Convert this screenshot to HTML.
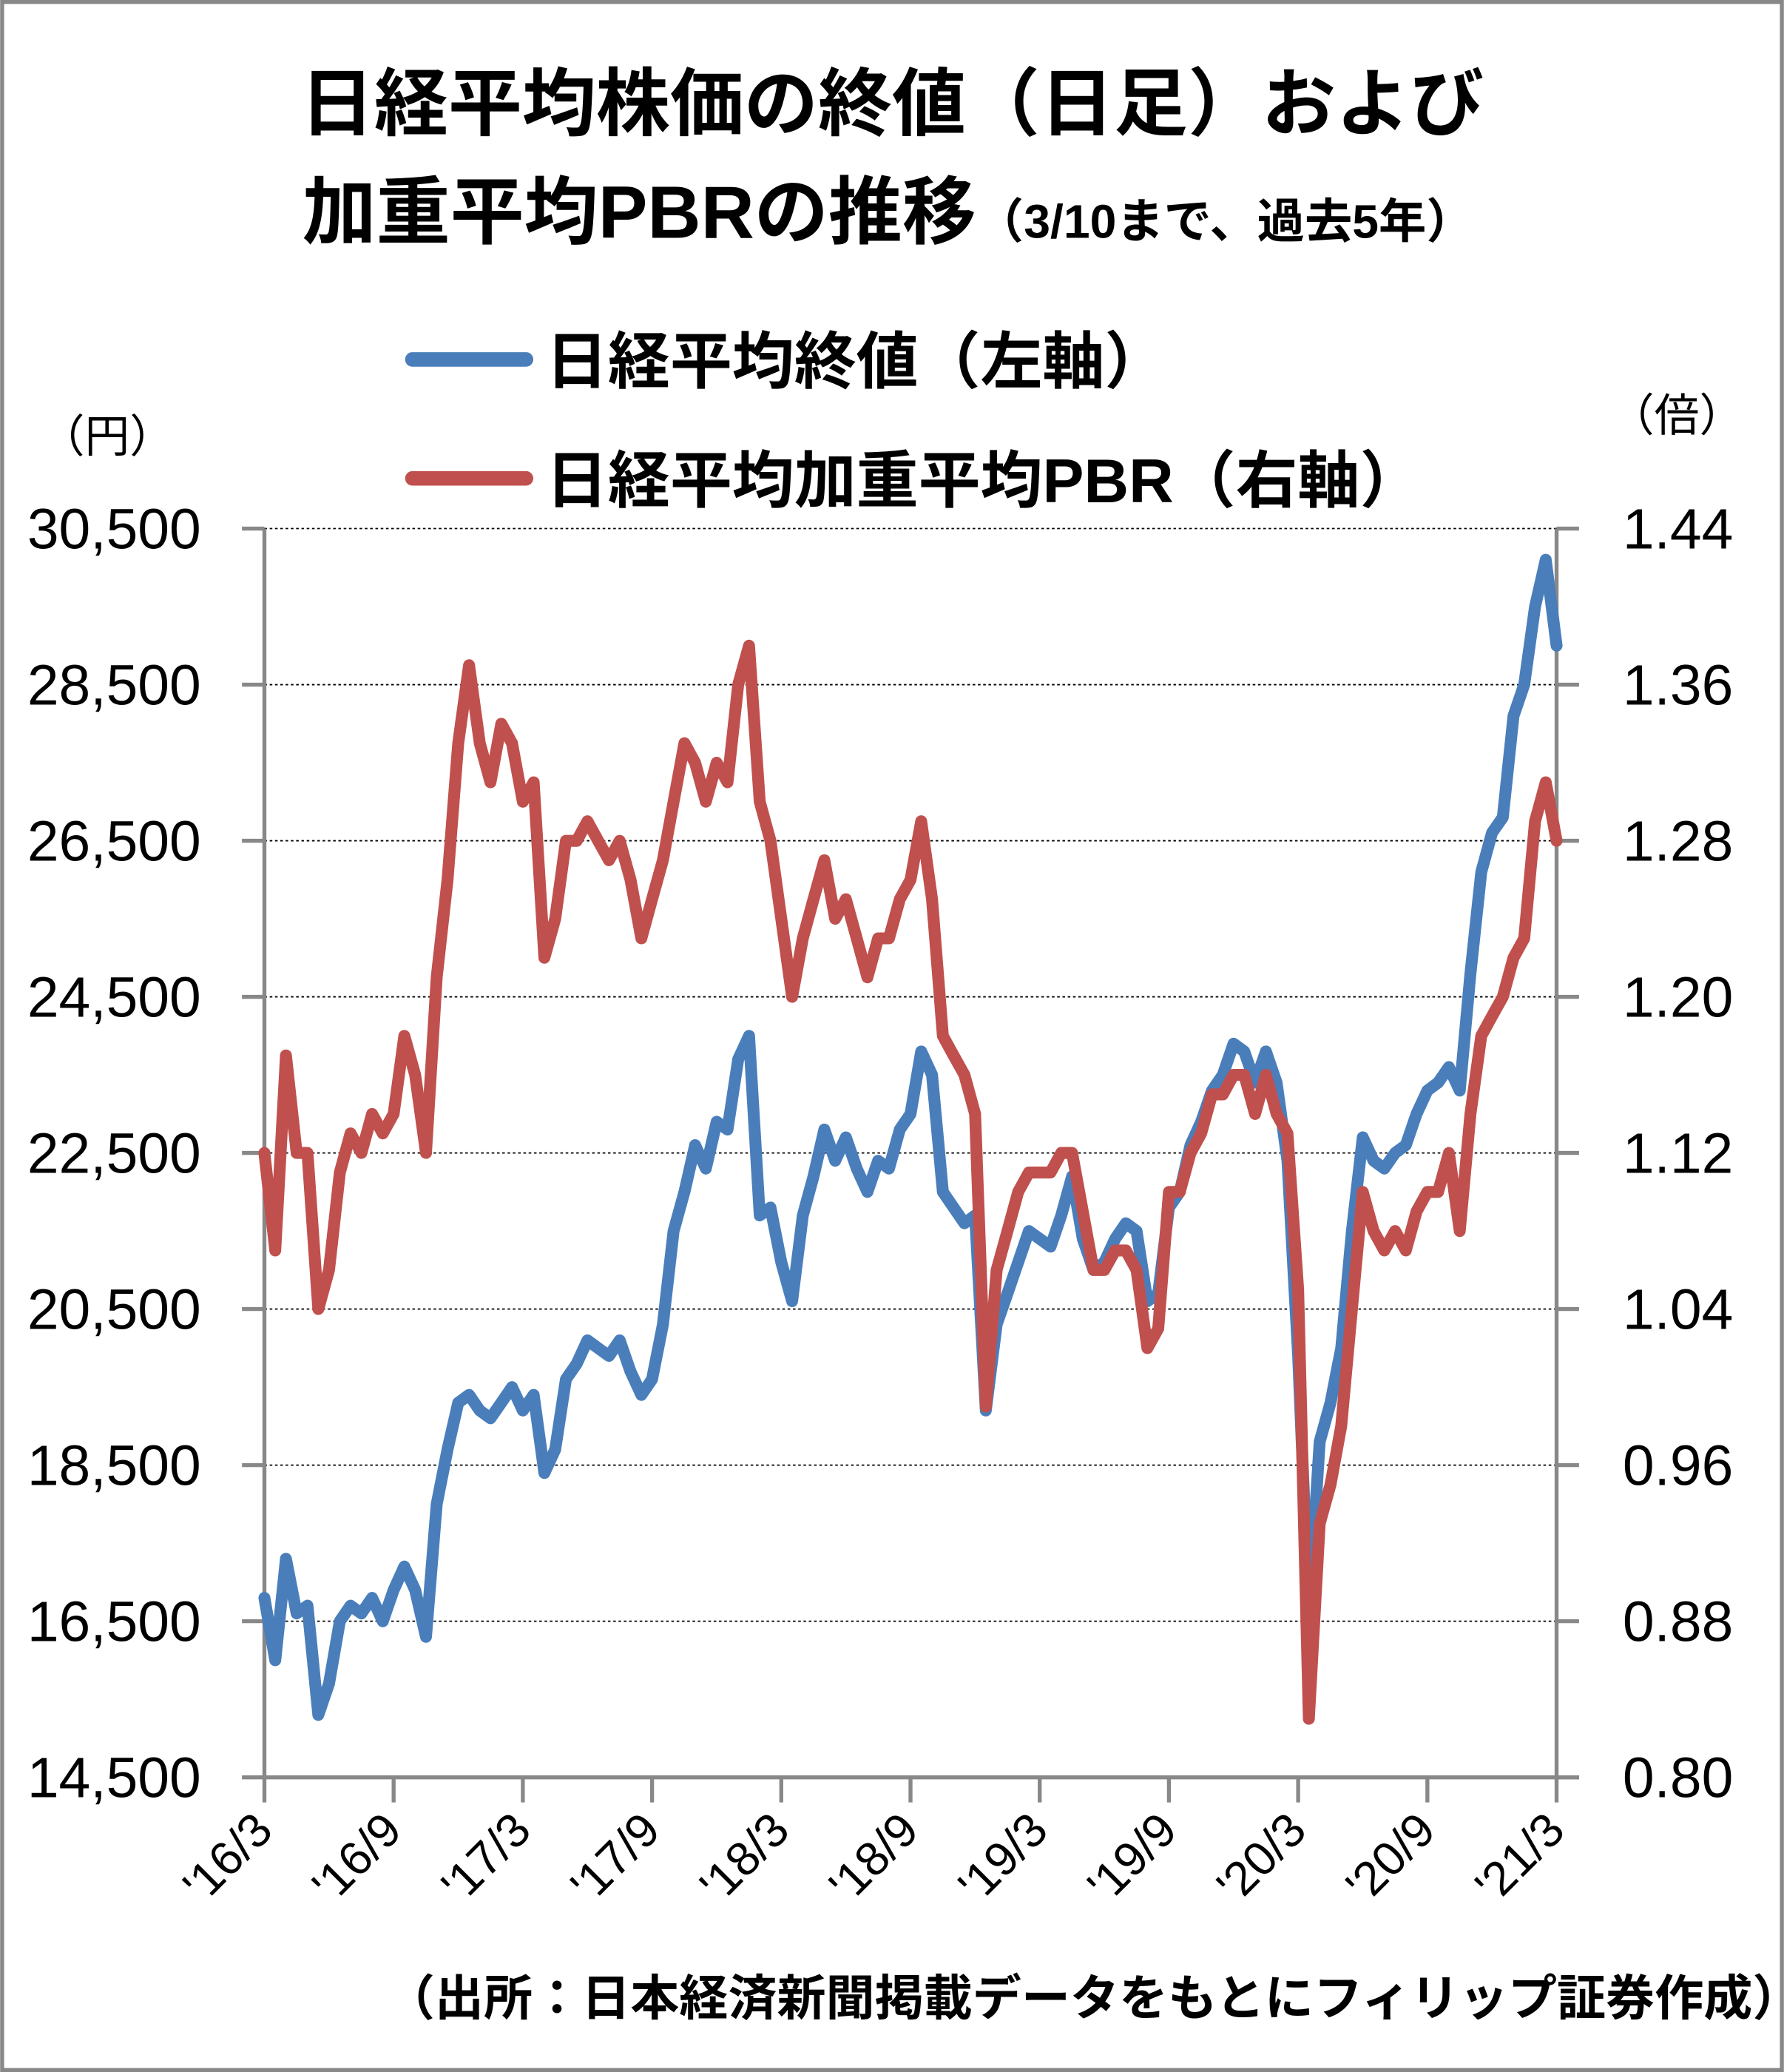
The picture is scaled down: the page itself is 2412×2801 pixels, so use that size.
<!DOCTYPE html>
<html><head><meta charset="utf-8">
<style>
html,body{margin:0;padding:0;background:#fff;}
svg{display:block;}
text{font-family:"Liberation Sans","Noto Sans CJK JP",sans-serif;fill:#000;}
</style></head>
<body>
<svg id="chart" width="2412" height="2801" viewBox="0 0 1350 1568" xmlns="http://www.w3.org/2000/svg">
<rect x="1.5" y="1.5" width="1347" height="1565" fill="#fff" stroke="#888" stroke-width="3"/>
<text x="675" y="98" font-size="56" font-weight="bold" text-anchor="middle">日経平均株価の終値（日足）および</text>
<text x="672" y="180" text-anchor="middle" font-weight="bold"><tspan font-size="56">加重平均PBRの推移</tspan><tspan font-size="36">（3/10まで、過去5年）</tspan></text>
<line x1="312" y1="272" x2="398" y2="272" stroke="#4a7ebb" stroke-width="11" stroke-linecap="round"/>
<text x="413" y="290" font-size="47" font-weight="bold">日経平均終値（左軸）</text>
<line x1="312" y1="362" x2="398" y2="362" stroke="#c0504d" stroke-width="11" stroke-linecap="round"/>
<text x="413" y="380" font-size="47" font-weight="bold">日経平均加重平均PBR（右軸）</text>
<text x="30" y="342" font-size="34">（円）</text>
<text x="1218" y="326" font-size="34">（倍）</text>
<g id="grid"></g>
<g id="axes"></g>
<g id="series"></g>
<text x="292" y="1525" font-size="37" font-weight="bold">（出所：日本経済新聞掲載データをもとにフィリップ証券作成）</text>
</svg>
<script>
const xLabels=["'16/3","'16/9","'17/3","'17/9","'18/3","'18/9","'19/3","'19/9","'20/3","'20/9","'21/3"];
const leftTicks=[14500,16500,18500,20500,22500,24500,26500,28500,30500];
const rightTicks=[0.80,0.88,0.96,1.04,1.12,1.20,1.28,1.36,1.44];
// months since 2016/3/10, half-month steps
const months=[
0,0.5,1,1.5,2,2.5,3,3.5,4,4.5,5,5.5,
6,6.5,7,7.5,8,8.5,9,9.5,10,10.5,11,11.5,
12,12.5,13,13.5,14,14.5,15,15.5,16,16.5,17,17.5,
18,18.5,19,19.5,20,20.5,21,21.5,22,22.5,23,23.5,
24,24.5,25,25.5,26,26.5,27,27.5,28,28.5,29,29.5,
30,30.5,31,31.5,32,32.5,33,33.5,34,34.5,35,35.5,
36,36.5,37,37.5,38,38.5,39,39.5,40,40.5,41,41.5,
42,42.5,43,43.5,44,44.5,45,45.5,46,46.5,47,47.5,
48,48.5,49,49.5,50,50.5,51,51.5,52,52.5,53,53.5,
54,54.5,55,55.5,56,56.5,57,57.5,58,58.5,59,59.5,
60];
const nikkei=[
16800,16000,17300,16600,16700,15300,15700,16500,16700,16600,16800,16500,
16900,17200,16900,16300,18000,18700,19300,19400,19200,19100,19300,19500,
19200,19400,18400,18700,19600,19800,20100,20000,19900,20100,19700,19400,
19600,20300,21500,22000,22600,22300,22900,22800,23700,24000,21700,21800,
21100,20600,21700,22200,22800,22400,22700,22300,22000,22400,22300,22800,
23000,23800,23500,22000,21800,21600,21700,19200,20300,20700,21100,21500,
21400,21300,21700,22200,21400,21000,21100,21400,21600,21500,20600,20700,
21800,22000,22600,22900,23300,23500,23900,23800,23400,23800,23400,22400,
19900,16600,18800,19300,20000,21500,22700,22400,22300,22500,22600,23000,
23300,23400,23600,23300,24800,26100,26600,26800,28100,28500,29500,30100,
29000];
const pbr=[
1.12,1.07,1.17,1.12,1.12,1.04,1.06,1.11,1.13,1.12,1.14,1.13,
1.14,1.18,1.16,1.12,1.21,1.26,1.33,1.37,1.33,1.31,1.34,1.33,
1.30,1.31,1.22,1.24,1.28,1.28,1.29,1.28,1.27,1.28,1.26,1.23,
1.25,1.27,1.30,1.33,1.32,1.30,1.32,1.31,1.36,1.38,1.30,1.28,
1.24,1.20,1.23,1.25,1.27,1.24,1.25,1.23,1.21,1.23,1.23,1.25,
1.26,1.29,1.25,1.18,1.17,1.16,1.14,0.99,1.06,1.08,1.10,1.11,
1.11,1.11,1.12,1.12,1.09,1.06,1.06,1.07,1.07,1.06,1.02,1.03,
1.10,1.10,1.12,1.13,1.15,1.15,1.16,1.16,1.14,1.16,1.14,1.13,
1.05,0.83,0.93,0.95,0.98,1.04,1.10,1.08,1.07,1.08,1.07,1.09,
1.10,1.10,1.12,1.08,1.14,1.18,1.19,1.20,1.22,1.23,1.29,1.31,
1.28];

const NS="http://www.w3.org/2000/svg";
const L=200,R=1178,T=400,B=1345;
function xScale(m){return L+m*(R-L)/60;}
function yLeft(v){return B-(v-14500)*(B-T)/16000;}
function yRight(v){return B-(v-0.80)*(B-T)/0.64;}
function mk(tag,attrs,parent){const e=document.createElementNS(NS,tag);for(const k in attrs)e.setAttribute(k,attrs[k]);parent.appendChild(e);return e;}
const grid=document.getElementById('grid'),axes=document.getElementById('axes'),series=document.getElementById('series');

leftTicks.forEach((v,i)=>{
  const y=yLeft(v);
  if(i>0){
    const g=mk('line',{x1:L,x2:R,y1:y,y2:y,stroke:'#000','stroke-width':1,'stroke-dasharray':'2,2'},grid);
    
    
  }
  const t=mk('line',{x1:L-17,x2:L,y1:y,y2:y,stroke:'#888','stroke-width':3},axes);
  
  
  const lb=mk('text',{x:152,y:y+15,'font-size':43,'text-anchor':'end'},axes);
  lb.textContent=v.toLocaleString('en-US');
  
  
});
rightTicks.forEach(v=>{
  const y=yRight(v);
  const t=mk('line',{x1:R,x2:R+17,y1:y,y2:y,stroke:'#888','stroke-width':3},axes);
  
  
  const lb=mk('text',{x:1228,y:y+15,'font-size':43},axes);
  lb.textContent=v.toFixed(2);
  
  
});
const la=mk('line',{x1:L,x2:L,y1:T,y2:B,stroke:'#888','stroke-width':3},axes);


const ra=mk('line',{x1:R,x2:R,y1:T,y2:B,stroke:'#888','stroke-width':3},axes);


const ba=mk('line',{x1:L,x2:R+17,y1:B,y2:B,stroke:'#888','stroke-width':3},axes);


xLabels.forEach((s,i)=>{
  const x=xScale(i*6);
  const t=mk('line',{x1:x,x2:x,y1:B,y2:B+19,stroke:'#888','stroke-width':3},axes);
  
  
  const lb=mk('text',{x:x+8,y:B+42,'font-size':36,'text-anchor':'end',transform:`rotate(-45 ${x+8} ${B+42})`},axes);
  lb.textContent=s;
  
  
});
function path(vals,ys,color,name){
  const n=Math.min(vals.length,months.length);
  let d='';
  for(let i=0;i<n;i++){d+=(i?'L':'M')+xScale(months[i]).toFixed(1)+','+ys(vals[i]).toFixed(1)+' ';}
  const p=mk('path',{d:d,fill:'none',stroke:color,'stroke-width':9,'stroke-linejoin':'round','stroke-linecap':'round'},series);
  
  
}
path(nikkei,yLeft,'#4a7ebb','nikkei-close-line');
path(pbr,yRight,'#c0504d','pbr-line');
</script>
</body></html>
